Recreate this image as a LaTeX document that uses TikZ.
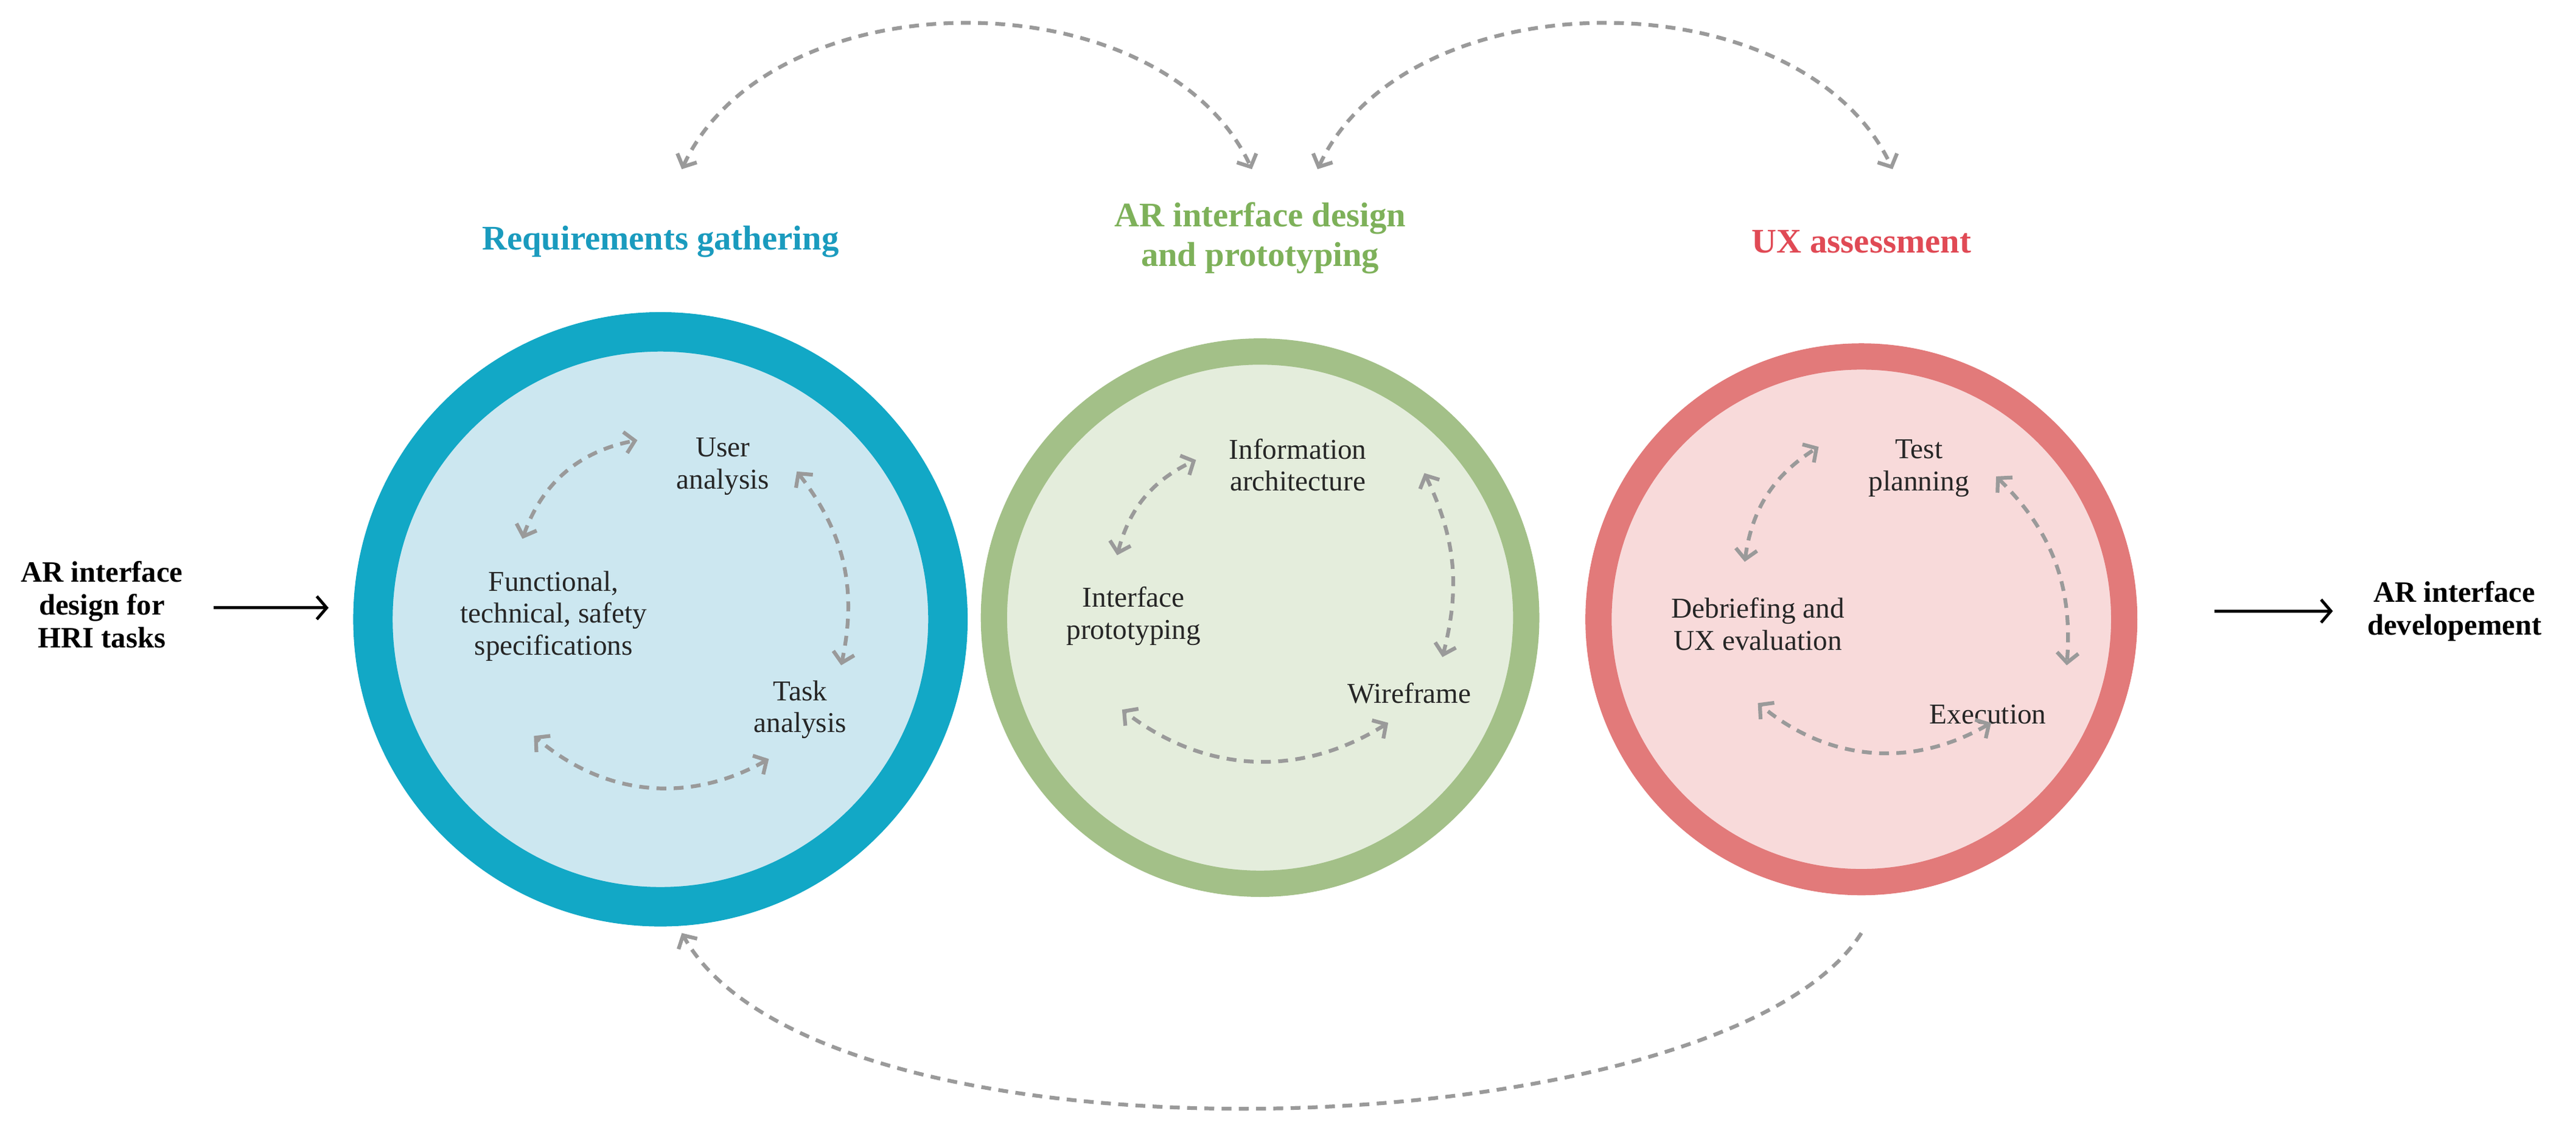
\documentclass[tikz,border=0pt]{standalone}
\usepackage{fontspec}
\setmainfont{Liberation Serif}
\usetikzlibrary{arrows.meta}
\definecolor{bring}{HTML}{12A8C6}\definecolor{bfill}{HTML}{CCE7F0}
\definecolor{gring}{HTML}{A3C088}\definecolor{gfill}{HTML}{E4EDDC}
\definecolor{rring}{HTML}{E27A7A}\definecolor{rfill}{HTML}{F8DADA}
\definecolor{btit}{HTML}{1A9BBE}\definecolor{gtit}{HTML}{7EB15A}\definecolor{rtit}{HTML}{E04A55}
\definecolor{dgray}{HTML}{9A9A9A}
\begin{document}
\begin{tikzpicture}[x=1pt,y=-1pt,
  garr/.style={draw=dgray,line width=2.3pt,dash pattern=on 6pt off 4.5pt,
    arrows={Straight Barb[length=6pt,width=13pt,line width=2.3pt]-Straight Barb[length=6pt,width=13pt,line width=2.3pt]}},
  lbl/.style={font=\fontsize{17.5}{19.5}\selectfont,align=center,text=black!85},
  tit/.style={font=\fontsize{21}{24}\selectfont\bfseries,align=center},
  side/.style={font=\fontsize{18}{20}\selectfont\bfseries,align=center}]
\useasboundingbox (0,0) rectangle (1568,698);
% circles
\node (c1) [circle,draw=bring,fill=bfill,line width=24pt,minimum size=350pt] at (402,377) {};
\node (c2) [circle,draw=gring,fill=gfill,line width=16pt,minimum size=324pt] at (767,376) {};
\node (c3) [circle,draw=rring,fill=rfill,line width=16pt,minimum size=320pt] at (1133,377) {};
% titles
\node (t1) [tit,text=btit] at (402,147) {Requirements gathering};
\node (t2) [tit,text=gtit] at (767,145) {AR interface design\\and prototyping};
\node (t3) [tit,text=rtit] at (1133,147) {UX assessment};
% side texts
\node (in) [side] at (62,368) {AR interface\\design for\\HRI tasks};
\node (out) [side] at (1494,372) {AR interface\\developement};
\coordinate (a1) at (130,370); \coordinate (a2) at (200,370);
\coordinate (a3) at (1348,372); \coordinate (a4) at (1420,372);
\draw[line width=1.8pt,-{Straight Barb[length=6pt,width=14pt,line width=1.8pt]}] (a1) -- (a2);
\draw[line width=1.8pt,-{Straight Barb[length=6pt,width=14pt,line width=1.8pt]}] (a3) -- (a4);
% inner labels
\node[lbl] at (440,284) {User\\analysis};
\node[lbl] at (337,375) {Functional,\\technical, safety\\specifications};
\node[lbl] at (487,432) {Task\\analysis};
\node[lbl] at (790,283) {Information\\architecture};
\node[lbl] at (690,375) {Interface\\prototyping};
\node[lbl] at (858,422) {Wireframe};
\node[lbl] at (1168,285) {Test\\planning};
\node[lbl] at (1070,380) {Debriefing and\\UX evaluation};
\node[lbl] at (1210,435) {Execution};
% inner arrows
\coordinate (b1) at (318,328); \coordinate (b2) at (388,268);
\coordinate (b3) at (485,287); \coordinate (b4) at (512,405);
\coordinate (b5) at (468,462); \coordinate (b6) at (325,448);
\draw[garr] (b1) to[bend left=30] (b2);
\draw[garr] (b3) to[bend left=25] (b4);
\draw[garr] (b5) to[bend left=35] (b6);
\coordinate (g1) at (680,338); \coordinate (g2) at (728,280);
\coordinate (g3) at (867,288); \coordinate (g4) at (878,400);
\coordinate (g5) at (845,440); \coordinate (g6) at (683,432);
\draw[garr] (g1) to[bend left=25] (g2);
\draw[garr] (g3) to[bend left=20] (g4);
\draw[garr] (g5) to[bend left=35] (g6);
\coordinate (r1) at (1062,342); \coordinate (r2) at (1107,272);
\coordinate (r3) at (1215,290); \coordinate (r4) at (1258,405);
\coordinate (r5) at (1212,440); \coordinate (r6) at (1070,428);
\draw[garr] (r1) to[bend left=25] (r2);
\draw[garr] (r3) to[bend left=25] (r4);
\draw[garr] (r5) to[bend left=35] (r6);
% outer arrows
\coordinate (o1) at (415,103); \coordinate (o2) at (762,103);
\coordinate (o3) at (802,103); \coordinate (o4) at (1152,103);
\coordinate (o5) at (1133,568); \coordinate (o6) at (415,568);
\draw[garr] (o1) .. controls (470,-15) and (707,-15) .. (o2);
\draw[garr] (o3) .. controls (857,-15) and (1097,-15) .. (o4);
\draw[garr,arrows={-Straight Barb[length=6pt,width=13pt,line width=2.3pt]}] (o5) .. controls (1050,700) and (500,720) .. (o6);
\end{tikzpicture}
\end{document}
